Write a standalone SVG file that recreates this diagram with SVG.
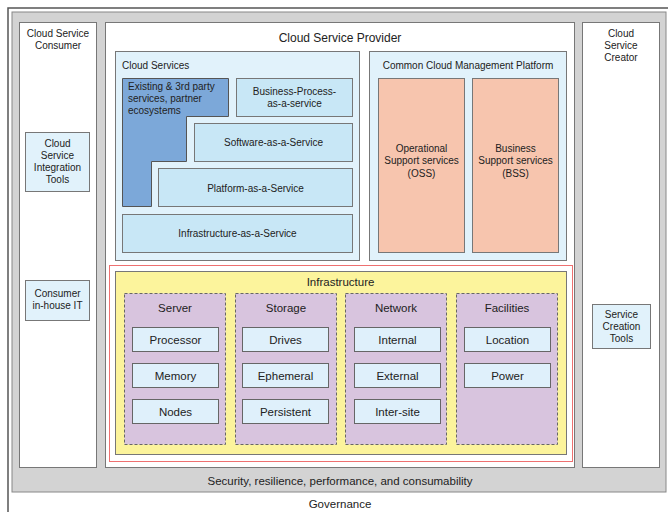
<svg xmlns="http://www.w3.org/2000/svg" width="668" height="512" viewBox="0 0 668 512">
<style>
text{font-family:"Liberation Sans",Arial,sans-serif;fill:#222;font-size:10px}
.c{text-anchor:middle}
.panel{fill:#fff;stroke:#777;stroke-width:1}
.lb{fill:#e1f2fb;stroke:#777;stroke-width:1}
.sv{fill:#c8e7f6;stroke:#777;stroke-width:1}
.sup{fill:#f7c5ae;stroke:#777;stroke-width:1}
.col{fill:#d8c4de;stroke:#666;stroke-width:1;stroke-dasharray:3 2}
.item{fill:#dff0fb;stroke:#666;stroke-width:1}
.it{font-size:11.5px}
</style>
<rect x="8" y="8" width="670" height="520" fill="#fff" stroke="#555" stroke-width="1.5"/>
<rect x="12" y="12" width="654" height="480" fill="#d3d3d3" stroke="#888" stroke-width="1"/>
<g id="consumer">
<rect class="panel" x="19.5" y="22.5" width="77" height="445"/>
<text class="c" x="58" y="37">Cloud Service</text>
<text class="c" x="58" y="49">Consumer</text>
</g>
<g id="integration-tools">
<rect class="lb" x="25.5" y="132.5" width="64" height="59"/>
<text class="c" x="57.5" y="147">Cloud</text>
<text class="c" x="57.5" y="159">Service</text>
<text class="c" x="57.5" y="171">Integration</text>
<text class="c" x="57.5" y="183">Tools</text>
</g>
<g id="inhouse-it">
<rect class="lb" x="25.5" y="280.5" width="64" height="40"/>
<text class="c" x="57.5" y="296.5">Consumer</text>
<text class="c" x="57.5" y="308.5">in-house IT</text>
</g>
<g id="provider">
<rect class="panel" x="105.5" y="22.5" width="469" height="445"/>
<text class="c" x="340" y="42" style="font-size:12px">Cloud Service Provider</text>
</g>
<g id="creator">
<rect class="panel" x="582.5" y="22.5" width="77" height="445"/>
<text class="c" x="621" y="37">Cloud</text>
<text class="c" x="621" y="49">Service</text>
<text class="c" x="621" y="61">Creator</text>
</g>
<g id="creation-tools">
<rect class="lb" x="592.5" y="304.5" width="58" height="44"/>
<text class="c" x="621.5" y="317.5">Service</text>
<text class="c" x="621.5" y="329.5">Creation</text>
<text class="c" x="621.5" y="341.5">Tools</text>
</g>
<g id="cloud-services">
<rect class="lb" x="115.5" y="51.5" width="244" height="209"/>
<text x="122" y="68.5">Cloud Services</text>
</g>
<g id="existing">
<polygon points="122.5,78.5 228.5,78.5 228.5,116.5 186.5,116.5 186.5,161.5 151.5,161.5 151.5,206.5 122.5,206.5" fill="#7ca8d9" stroke="#555" stroke-width="1"/>
<text x="128" y="90">Existing &amp; 3rd party</text>
<text x="128" y="102">services, partner</text>
<text x="128" y="114">ecosystems</text>
</g>
<g id="bpaas">
<rect class="sv" x="236.5" y="78.5" width="116" height="38"/>
<text class="c" x="294.5" y="94.5">Business-Process-</text>
<text class="c" x="294.5" y="106.5">as-a-service</text>
</g>
<g id="saas">
<rect class="sv" x="194.5" y="123.5" width="158" height="38"/>
<text class="c" x="273.5" y="146">Software-as-a-Service</text>
</g>
<g id="paas">
<rect class="sv" x="158.5" y="168.5" width="194" height="38"/>
<text class="c" x="255.5" y="191.5">Platform-as-a-Service</text>
</g>
<g id="iaas">
<rect class="sv" x="122.5" y="214.5" width="230" height="38"/>
<text class="c" x="237.5" y="237">Infrastructure-as-a-Service</text>
</g>
<g id="ccmp">
<rect class="lb" x="369.5" y="51.5" width="197" height="209"/>
<text class="c" x="468" y="68.5">Common Cloud Management Platform</text>
</g>
<g id="oss">
<rect class="sup" x="378.5" y="78.5" width="86" height="174"/>
<text class="c" x="421.5" y="151.5">Operational</text>
<text class="c" x="421.5" y="164">Support services</text>
<text class="c" x="421.5" y="176.5">(OSS)</text>
</g>
<g id="bss">
<rect class="sup" x="472.5" y="78.5" width="86" height="174"/>
<text class="c" x="515.5" y="151.5">Business</text>
<text class="c" x="515.5" y="164">Support services</text>
<text class="c" x="515.5" y="176.5">(BSS)</text>
</g>
<g id="infrastructure">
<rect x="109.5" y="265.5" width="463" height="196" fill="#fff" stroke="#ee7070" stroke-width="1"/>
<rect x="115.5" y="271.5" width="451" height="183" fill="#fcf49c" stroke="#777" stroke-width="1"/>
<text class="c" x="340.5" y="286" style="font-size:11.5px">Infrastructure</text>
</g>
<g id="server">
<rect class="col" x="124.5" y="293.5" width="101" height="151"/>
<text class="c it" x="175" y="312">Server</text>
<rect class="item" x="132.5" y="327.5" width="86" height="24"/><text class="c it" x="175.5" y="343.5">Processor</text>
<rect class="item" x="132.5" y="363.5" width="86" height="24"/><text class="c it" x="175.5" y="379.5">Memory</text>
<rect class="item" x="132.5" y="399.5" width="86" height="24"/><text class="c it" x="175.5" y="415.5">Nodes</text>
</g>
<g id="storage">
<rect class="col" x="235.5" y="293.5" width="101" height="151"/>
<text class="c it" x="286" y="312">Storage</text>
<rect class="item" x="242.5" y="327.5" width="86" height="24"/><text class="c it" x="285.5" y="343.5">Drives</text>
<rect class="item" x="242.5" y="363.5" width="86" height="24"/><text class="c it" x="285.5" y="379.5">Ephemeral</text>
<rect class="item" x="242.5" y="399.5" width="86" height="24"/><text class="c it" x="285.5" y="415.5">Persistent</text>
</g>
<g id="network">
<rect class="col" x="345.5" y="293.5" width="101" height="151"/>
<text class="c it" x="396" y="312">Network</text>
<rect class="item" x="354.5" y="327.5" width="86" height="24"/><text class="c it" x="397.5" y="343.5">Internal</text>
<rect class="item" x="354.5" y="363.5" width="86" height="24"/><text class="c it" x="397.5" y="379.5">External</text>
<rect class="item" x="354.5" y="399.5" width="86" height="24"/><text class="c it" x="397.5" y="415.5">Inter-site</text>
</g>
<g id="facilities">
<rect class="col" x="456.5" y="293.5" width="101" height="151"/>
<text class="c it" x="507" y="312">Facilities</text>
<rect class="item" x="464.5" y="327.5" width="86" height="24"/><text class="c it" x="507.5" y="343.5">Location</text>
<rect class="item" x="464.5" y="363.5" width="86" height="24"/><text class="c it" x="507.5" y="379.5">Power</text>
</g>
<g id="connectors"></g>
<g id="labels">
<text class="c" x="340" y="485" style="font-size:11.5px">Security, resilience, performance, and consumability</text>
<text class="c" x="340" y="508" style="font-size:11.5px">Governance</text>
</g>
</svg>
